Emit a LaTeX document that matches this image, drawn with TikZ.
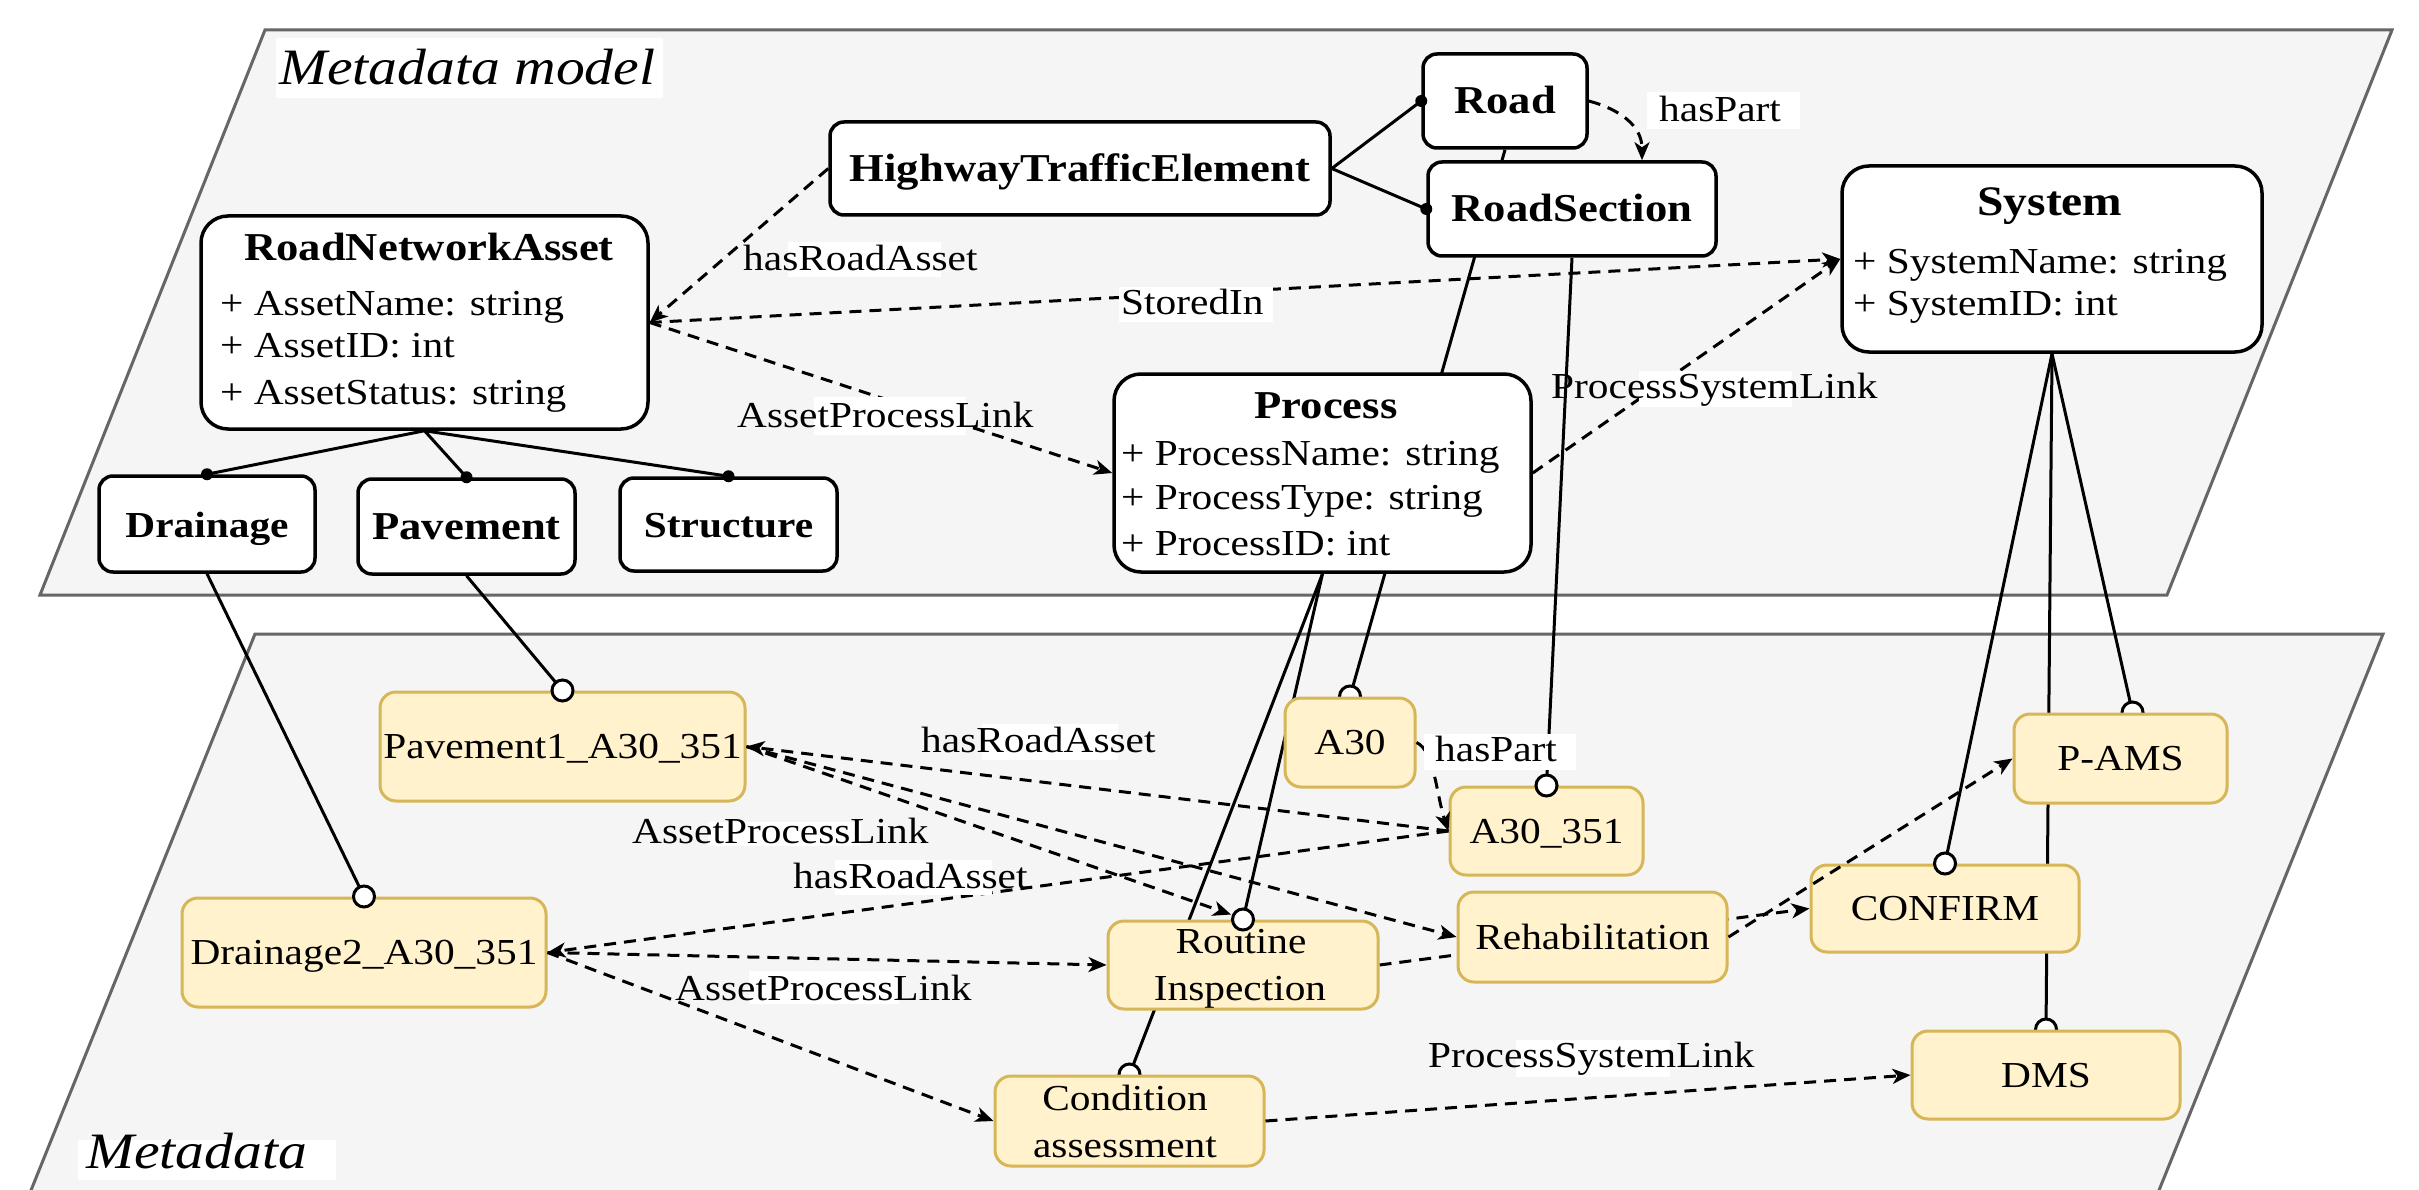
\documentclass[tikz,border=0pt]{standalone}
\usepackage{fontspec}
\setmainfont{Liberation Serif}[FakeStretch=1.13]
\usetikzlibrary{arrows.meta,calc}
\definecolor{instf}{HTML}{FFF2CC}
\definecolor{instb}{HTML}{D6B656}
\definecolor{planef}{HTML}{F5F5F5}
\definecolor{planeb}{HTML}{666666}
\newcommand\txr{\fontsize{36.6}{44}\selectfont}
\newcommand\txb{\fontsize{39.5}{44}\selectfont\bfseries}
\newcommand\txbs{\fontsize{36.6}{44}\selectfont\bfseries}
\newcommand\txbl{\fontsize{42}{44}\selectfont\bfseries}
\newcommand\txi{\fontsize{51}{60}\selectfont\itshape}
\pgfdeclarelayer{planes}
\pgfdeclarelayer{under}
\pgfsetlayers{planes,under,main}
\begin{document}
\begin{tikzpicture}[x=1pt,y=-1pt,
  plane/.style={fill=planef, draw=planeb, line width=3pt, line join=miter},
  cls/.style={draw=black, line width=3.5pt, fill=white, rounded corners=27pt, inner sep=0pt, text height=26pt, text depth=0pt},
  clss/.style={cls, rounded corners=14pt},
  inst/.style={draw=instb, fill=instf, line width=3pt, rounded corners=16pt, inner sep=0pt, text height=24pt, text depth=0pt, font=\txr},
  ln/.style={line width=3pt},
  arr/.style={line width=3pt, dash pattern=on 12pt off 8pt, -{Stealth[length=18pt,width=15pt,inset=5pt]}},
  ocirc/.style={line width=3pt, fill=white},
  lbl/.style={anchor=base west, inner sep=0pt, font=\txr},
  ttl/.style={anchor=base, inner sep=0pt, font=\txb},
  attr/.style={anchor=base west, inner sep=0pt, font=\txr},
  itext/.style={anchor=base, inner sep=0pt, font=\txr},
  plbl/.style={anchor=base west, inner sep=0pt, font=\txi}
]
\useasboundingbox (0,0) rectangle (2419,1190);
\clip (0,0) rectangle (2419,1190);

% planes
\begin{pgfonlayer}{planes}
\draw[plane] (265,30) -- (2392,30) -- (2167,595) -- (40,595) -- cycle;
\draw[plane] (255,634) -- (2383,634) -- (2143,1230) -- (15,1230) -- cycle;
\end{pgfonlayer}

% class boxes
\node[cls, minimum width=447pt, minimum height=213pt] (rna) at (424.5,322.5) {};
\node[ttl] (rnat) at (429,261) {RoadNetworkAsset};
\node[attr] (rna1) at (220,315) {+ AssetName: string};
\node[attr] (rna2) at (220,357) {+ AssetID: int};
\node[attr] (rna3) at (220,404) {+ AssetStatus: string};

\node[clss, font=\txb, minimum width=500pt, minimum height=93pt] (hte) at (1080,168.5) {HighwayTrafficElement};
\node[clss, font=\txb, minimum width=164pt, minimum height=94pt] (road) at (1505,101) {Road};
\node[clss, font=\txb, minimum width=288pt, minimum height=94pt] (rs) at (1572,209) {RoadSection};

\node[cls, minimum width=420pt, minimum height=186pt] (sys) at (2052,259) {};
\node[ttl, font=\txbl] (syst) at (2050,216) {System};
\node[attr] (sys1) at (1853,273) {+ SystemName: string};
\node[attr] (sys2) at (1853,316) {+ SystemID: int};

\node[cls, minimum width=417pt, minimum height=198pt] (proc) at (1322.5,473) {};
\node[ttl] (proct) at (1326,418) {Process};
\node[attr] (proc1) at (1121,465) {+ ProcessName: string};
\node[attr] (proc2) at (1121,509) {+ ProcessType: string};
\node[attr] (proc3) at (1121,555) {+ ProcessID: int};

\node[clss, font=\txbs, minimum width=216pt, minimum height=96pt] (drain) at (207,524) {Drainage};
\node[clss, font=\txb, minimum width=217pt, minimum height=95pt] (pave) at (466.5,526.5) {Pavement};
\node[clss, font=\txbs, minimum width=217pt, minimum height=93pt] (struc) at (728.5,524.5) {Structure};

% instance boxes
\node[inst, minimum width=365pt, minimum height=109pt] (pav1) at (562.5,746.5) {Pavement1\_A30\_351};
\node[inst, minimum width=364pt, minimum height=109pt] (dr2) at (364,952.5) {Drainage2\_A30\_351};
\node[inst, minimum width=130pt, minimum height=89pt] (a30) at (1350,742.5) {A30};
\node[inst, minimum width=193pt, minimum height=88pt] (a351) at (1546.5,831) {A30\_351};
\node[inst, minimum width=270pt, minimum height=88pt] (rout) at (1243,965) {};
\node[itext] (rout1) at (1241,953) {Routine};
\node[itext] (rout2) at (1240,1000) {Inspection};
\node[inst, minimum width=269pt, minimum height=90pt] (rehab) at (1592.5,937) {Rehabilitation};
\node[inst, minimum width=269pt, minimum height=90pt] (cond) at (1129.5,1121) {};
\node[itext] (cond1) at (1125,1110) {Condition};
\node[itext] (cond2) at (1125,1157) {assessment};
\node[inst, minimum width=268pt, minimum height=87pt] (confirm) at (1945,908.5) {CONFIRM};
\node[inst, minimum width=213pt, minimum height=89pt] (pams) at (2120.5,758.5) {P-AMS};
\node[inst, minimum width=268pt, minimum height=88pt] (dms) at (2046,1075) {DMS};

\coordinate (pamsin) at ($(pams.north)+(12,0)$);
\coordinate (rsin) at ($(rs.north)+(70,0)$);
\coordinate (routin) at ($(rout.north)+(-12,-5)$);

% connectors hidden behind boxes
\begin{pgfonlayer}{under}
\draw[ln] (drain.south) -- (dr2.north);
\draw[ln] (pave.south) -- (pav1.north);
\draw[ln] (road.south) -- (a30.north);
\draw[ocirc] (a30.north) circle (10.5pt);
\draw[ln] (rs.south) -- (a351.north);
\draw[ln] (proc.south) -- (rout.north);
\draw[ln] (proc.south) -- (cond.north);
\draw[ocirc] (cond.north) circle (10.5pt);
\draw[ln] (sys.south) -- (confirm.north);
\draw[ln] (sys.south) -- (pamsin);
\draw[ocirc] (pamsin) circle (10.5pt);
\draw[ln] (sys.south) -- (dms.north);
\draw[ocirc] (dms.north) circle (10.5pt);
\draw[arr] (rout.east) -- (confirm.west);
\end{pgfonlayer}

% generalisation links with dots
\draw[ln] (rna.south) -- (drain.north);
\draw[ln] (rna.south) -- (pave.north);
\draw[ln] (rna.south) -- (struc.north);
\draw[ln] (hte.east) -- (road.west);
\draw[ln] (hte.east) -- (rs.west);
\fill (drain.north) circle (6pt);
\fill (pave.north) circle (6pt);
\fill (struc.north) circle (6pt);
\fill (road.west) circle (6pt);
\fill (rs.west) circle (6pt);

% open circles on instances
\draw[ocirc] (dr2.north) circle (10.5pt);
\draw[ocirc] (pav1.north) circle (10.5pt);
\draw[ocirc] (a351.north) circle (10.5pt);
\draw[ocirc] (rout.north) circle (10.5pt);
\draw[ocirc] (confirm.north) circle (10.5pt);

% dashed relations, model
\draw[arr] (hte.west) -- (rna.east);
\draw[arr] (rna.east) -- (sys.west);
\draw[arr] (rna.east) -- (proc.west);
\draw[arr] (proc.east) -- (sys.west);
\draw[arr] (road.east) .. controls +(30,8) and +(0,-35) .. (rsin);

% dashed relations, metadata
\draw[arr] (a30.east) .. controls +(18,8) and +(-12,-35) .. (a351.west);
\draw[arr] (a351.west) -- (pav1.east);
\draw[arr] (a351.west) -- (dr2.east);
\draw[arr] (pav1.east) -- (routin);
\draw[arr] (pav1.east) -- (rehab.west);
\draw[arr] (dr2.east) -- (rout.west);
\draw[arr] (dr2.east) -- (cond.west);
\draw[arr] (rehab.east) -- (pams.west);
\draw[arr] (cond.east) -- (dms.west);

% labels
\fill[white] (276,38) rectangle (663,98);
\node[plbl] (tmm) at (279,85) {Metadata model};
\fill[white] (78,1140) rectangle (336,1180);
\node[plbl] (tmd) at (86,1168) {Metadata};

\fill[white] (788,242) rectangle (941,277);
\node[lbl] (l1) at (743,270) {hasRoadAsset};
\fill[white] (1119,287) rectangle (1273,322);
\node[lbl] (l2) at (1121,314) {StoredIn};
\fill[white] (814,397) rectangle (966,435);
\node[lbl] (l3) at (737,427) {AssetProcessLink};
\fill[white] (1639,371) rectangle (1792,407);
\node[lbl] (l4) at (1551,398) {ProcessSystemLink};
\fill[white] (1647,92) rectangle (1800,129);
\node[lbl] (l5) at (1659,122) {hasPart};

\fill[white] (982,724) rectangle (1118,760);
\node[lbl] (m1) at (921,752) {hasRoadAsset};
\fill[white] (708,822) rectangle (861,846);
\node[lbl] (m2) at (632,843) {AssetProcessLink};
\fill[white] (835,860) rectangle (992,895);
\node[lbl] (m3) at (793,888) {hasRoadAsset};
\fill[white] (749,971) rectangle (899,1004);
\node[lbl] (m4) at (675,1000) {AssetProcessLink};
\fill[white] (1424,734) rectangle (1576,770);
\node[lbl] (m5) at (1435,761) {hasPart};
\fill[white] (1516,1040) rectangle (1670,1077);
\node[lbl] (m6) at (1428,1067) {ProcessSystemLink};
\end{tikzpicture}
\end{document}
